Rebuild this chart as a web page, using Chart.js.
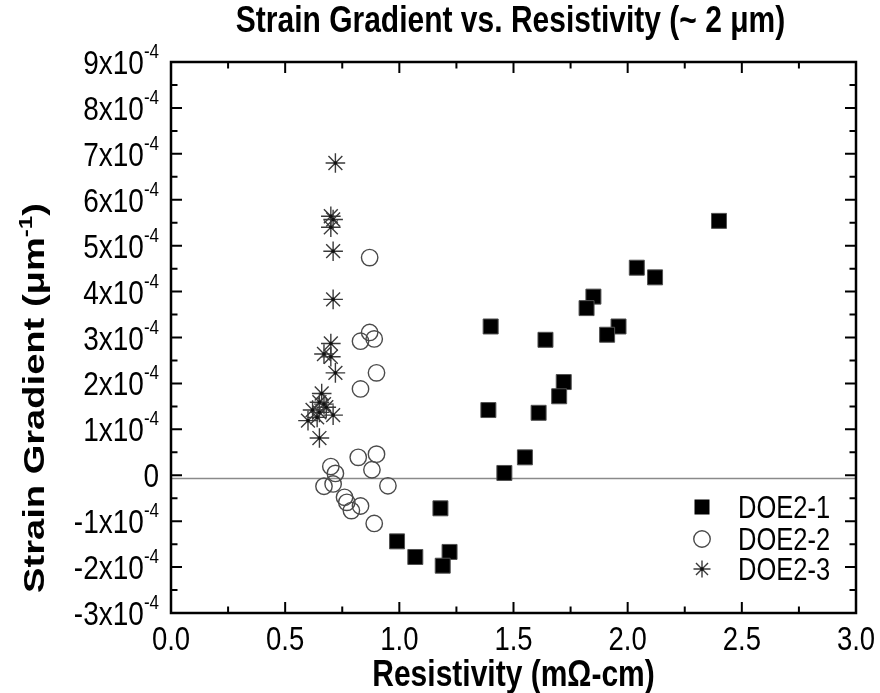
<!DOCTYPE html>
<html>
<head>
<meta charset="utf-8">
<title>Strain Gradient vs. Resistivity</title>
<script src="https://cdn.jsdelivr.net/npm/chart.js@4.4.1/dist/chart.umd.min.js"></script>
<style>
  html, body { margin: 0; padding: 0; background: #ffffff; }
  #wrap { width: 880px; height: 693px; position: relative; }
</style>
</head>
<body>
<div id="wrap"><canvas id="chart" width="880" height="693"></canvas></div>
<script>
// Resistivity in mΩ-cm, strain gradient in units of 10^-4 μm^-1
const doe1Resistivity = [2.40, 2.04, 2.12, 1.85, 1.82, 1.96, 1.91, 1.40, 1.64, 1.72, 1.70, 1.39, 1.61, 1.55, 1.46, 1.18, 0.99, 1.07, 1.22, 1.19];
const doe1Strain      = [5.54, 4.52, 4.31, 3.89, 3.64, 3.24, 3.06, 3.24, 2.95, 2.03, 1.72, 1.42, 1.36, 0.39, 0.05, -0.72, -1.44, -1.78, -1.67, -1.97];

const doe2Resistivity = [0.87, 0.87, 0.83, 0.89, 0.90, 0.83, 0.82, 0.90, 0.88, 0.70, 0.72, 0.95, 0.67, 0.71, 0.76, 0.77, 0.83, 0.79, 0.89];
const doe2Strain      = [4.74, 3.11, 2.92, 2.97, 2.23, 1.88, 0.39, 0.46, 0.12, 0.19, 0.04, -0.23, -0.24, -0.19, -0.48, -0.59, -0.67, -0.77, -1.05];

const doe3Resistivity = [0.72, 0.70, 0.71, 0.70, 0.71, 0.71, 0.70, 0.67, 0.70, 0.72, 0.66, 0.65, 0.67, 0.62, 0.71, 0.60, 0.64, 0.65, 0.65, 0.68];
const doe3Strain      = [6.80, 5.64, 5.57, 5.40, 4.88, 3.83, 2.87, 2.64, 2.58, 2.23, 1.78, 1.59, 1.55, 1.42, 1.31, 1.19, 1.26, 1.37, 0.81, 1.48];

const seriesNames = ['DOE2-1', 'DOE2-2', 'DOE2-3'];

const xTickValues = [0, 0.5, 1.0, 1.5, 2.0, 2.5, 3.0];
const xTickLabels = ['0.0', '0.5', '1.0', '1.5', '2.0', '2.5', '3.0'];
const yTickValues = [-3, -2, -1, 0, 1, 2, 3, 4, 5, 6, 7, 8, 9];
const yTickMantissa = ['-3x10', '-2x10', '-1x10', '0', '1x10', '2x10', '3x10', '4x10', '5x10', '6x10', '7x10', '8x10', '9x10'];
const yTickExponent = ['-4', '-4', '-4', '', '-4', '-4', '-4', '-4', '-4', '-4', '-4', '-4', '-4'];

const baselineLevel = -0.07;

const chartTitle = 'Strain Gradient vs. Resistivity (~ 2 \u03BCm)';
const xAxisTitle = 'Resistivity (m\u03A9-cm)';
const yAxisTitle = 'Strain Gradient (\u03BCm';
const yAxisTitleSup = '-1';
const yAxisTitleEnd = ')';

const FONT = '"Liberation Sans", Arial, Helvetica, sans-serif';
const TALL = 1.2;   // glyphs are drawn taller than they are wide

function toPoints(xs, ys) {
  return xs.map((x, i) => ({ x: x, y: ys[i] }));
}

// text drawn with a vertical stretch about its baseline
function tallText(ctx, text, x, y, font, align) {
  ctx.save();
  ctx.font = font;
  ctx.textAlign = align;
  ctx.textBaseline = 'alphabetic';
  ctx.translate(x, y);
  ctx.scale(1, TALL);
  ctx.fillText(text, 0, 0);
  ctx.restore();
}

// Marker styles shared by the plot and the legend
const styles = [
  { shape: 'rect',   fill: '#000000', stroke: '#505050', lw: 1,   r: 10.6 },
  { shape: 'circle', fill: 'rgba(255,255,255,0)', stroke: '#4a4a4a', lw: 1.4, r: 8.2 },
  { shape: 'star',   fill: 'rgba(0,0,0,0)', stroke: '#3a3a3a', lw: 1.4, r: 9.8 }
];

function drawMarker(ctx, shape, x, y, size, style) {
  ctx.save();
  ctx.strokeStyle = style.stroke;
  ctx.lineWidth = style.lw;
  if (shape === 'rect') {
    ctx.fillStyle = style.fill;
    ctx.fillRect(x - size / 2, y - size / 2, size, size);
  } else if (shape === 'circle') {
    ctx.beginPath();
    ctx.arc(x, y, size / 2, 0, Math.PI * 2);
    ctx.stroke();
  } else {
    const r = size / 2;
    ctx.beginPath();
    for (let k = 0; k < 4; k++) {
      const a = k * Math.PI / 4;
      ctx.moveTo(x - Math.cos(a) * r, y - Math.sin(a) * r);
      ctx.lineTo(x + Math.cos(a) * r, y + Math.sin(a) * r);
    }
    ctx.stroke();
    ctx.fillStyle = '#111';
    ctx.beginPath();
    ctx.arc(x, y, 1.8, 0, Math.PI * 2);
    ctx.fill();
  }
  ctx.restore();
}

const decorations = {
  id: 'decorations',
  beforeDatasetsDraw(chart) {
    const ctx = chart.ctx;
    const a = chart.chartArea;
    const ys = chart.scales.y;
    const yb = ys.getPixelForValue(baselineLevel);
    ctx.save();
    ctx.strokeStyle = '#8a8a8a';
    ctx.lineWidth = 1.5;
    ctx.beginPath();
    ctx.moveTo(a.left, yb);
    ctx.lineTo(a.right, yb);
    ctx.stroke();
    ctx.restore();
  },
  afterDatasetsDraw(chart) {
    const ctx = chart.ctx;
    // centre dots of the asterisk markers
    const meta = chart.getDatasetMeta(2);
    ctx.save();
    ctx.fillStyle = '#111';
    meta.data.forEach(p => {
      ctx.beginPath();
      ctx.arc(p.x, p.y, 1.8, 0, Math.PI * 2);
      ctx.fill();
    });
    ctx.restore();
  },
  afterDraw(chart) {
    const ctx = chart.ctx;
    const a = chart.chartArea;
    const xs = chart.scales.x;
    const ys = chart.scales.y;
    ctx.save();

    // frame
    ctx.strokeStyle = '#000';
    ctx.lineWidth = 2.5;
    ctx.strokeRect(a.left, a.top, a.right - a.left, a.bottom - a.top);

    // inward ticks on all four sides
    ctx.lineWidth = 2;
    const major = 11, minor = 6.5;
    ctx.beginPath();
    for (let v = 0; v <= 3.0001; v += 0.25) {
      const px = xs.getPixelForValue(v);
      const len = (Math.round(v * 4) % 2 === 0) ? major : minor;
      ctx.moveTo(px, a.bottom); ctx.lineTo(px, a.bottom - len);
      ctx.moveTo(px, a.top); ctx.lineTo(px, a.top + len);
    }
    for (let v = -3; v <= 9.0001; v += 0.5) {
      const py = ys.getPixelForValue(v);
      const len = (Math.round(v * 2) % 2 === 0) ? major : minor;
      ctx.moveTo(a.left, py); ctx.lineTo(a.left + len, py);
      ctx.moveTo(a.right, py); ctx.lineTo(a.right - len, py);
    }
    ctx.stroke();

    ctx.fillStyle = '#000';

    // x tick labels
    xTickValues.forEach((v, i) => {
      tallText(ctx, xTickLabels[i], xs.getPixelForValue(v), a.bottom + 37, '27.5px ' + FONT, 'center');
    });

    // y tick labels with superscript exponent
    const labelRight = a.left - 12;
    yTickValues.forEach((v, i) => {
      const py = ys.getPixelForValue(v);
      const exp = yTickExponent[i];
      let right = labelRight;
      if (exp) {
        ctx.font = '17px ' + FONT;
        const w = ctx.measureText(exp).width;
        tallText(ctx, exp, right, py - 4, '17px ' + FONT, 'right');
        right -= w;
      }
      tallText(ctx, yTickMantissa[i], right, py + 12, '28px ' + FONT, 'right');
    });

    // chart title
    tallText(ctx, chartTitle, (a.left + a.right) / 2 - 3, 32, 'bold 30px ' + FONT, 'center');

    // x axis title
    tallText(ctx, xAxisTitle, (a.left + a.right) / 2, 686, 'bold 30px ' + FONT, 'center');

    // y axis title (rotated), stretched along its length, with superscript
    ctx.save();
    ctx.translate(44, 398);
    ctx.rotate(-Math.PI / 2);
    ctx.scale(1.27, 1);
    const big = 'bold 30px ' + FONT, small = 'bold 19px ' + FONT;
    ctx.font = big;
    const w1 = ctx.measureText(yAxisTitle).width;
    const w3 = ctx.measureText(yAxisTitleEnd).width;
    ctx.font = small;
    const w2 = ctx.measureText(yAxisTitleSup).width;
    let sx = -(w1 + w2 + w3) / 2;
    ctx.textAlign = 'left';
    ctx.textBaseline = 'alphabetic';
    ctx.font = big;
    ctx.fillText(yAxisTitle, sx, 0);
    sx += w1;
    ctx.font = small;
    ctx.fillText(yAxisTitleSup, sx, -12);
    sx += w2;
    ctx.font = big;
    ctx.fillText(yAxisTitleEnd, sx, 0);
    ctx.restore();

    // legend inside the plot area
    const legendRows = [507, 539, 569];
    const legendSizes = [15, 16.5, 17];
    seriesNames.forEach((name, i) => {
      drawMarker(ctx, styles[i].shape, 702, legendRows[i], legendSizes[i], styles[i]);
      ctx.fillStyle = '#000';
      tallText(ctx, name, 738, legendRows[i] + 11, '25.5px ' + FONT, 'left');
    });

    ctx.restore();
  }
};

const datasets = [
  { label: seriesNames[0], data: toPoints(doe1Resistivity, doe1Strain) },
  { label: seriesNames[1], data: toPoints(doe2Resistivity, doe2Strain) },
  { label: seriesNames[2], data: toPoints(doe3Resistivity, doe3Strain) }
].map((d, i) => Object.assign(d, {
  pointStyle: styles[i].shape,
  pointRadius: styles[i].r,
  pointHoverRadius: styles[i].r,
  backgroundColor: styles[i].fill,
  borderColor: styles[i].stroke,
  pointBorderWidth: styles[i].lw,
  borderWidth: styles[i].lw,
  showLine: false
}));

new Chart(document.getElementById('chart'), {
  type: 'scatter',
  data: { datasets: datasets },
  options: {
    responsive: false,
    devicePixelRatio: 1,
    animation: false,
    layout: { padding: { left: 171, right: 24, top: 62, bottom: 80 } },
    plugins: {
      legend: { display: false },
      title: { display: false },
      tooltip: { enabled: false }
    },
    scales: {
      x: { type: 'linear', min: 0, max: 3, display: false },
      y: { type: 'linear', min: -3, max: 9, display: false }
    }
  },
  plugins: [decorations]
});
</script>
</body>
</html>
